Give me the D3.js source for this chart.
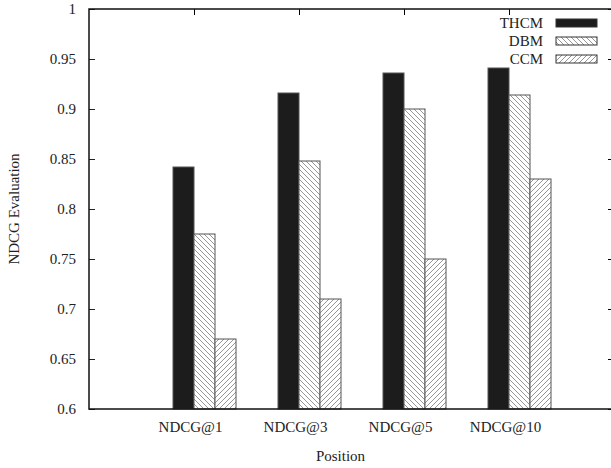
<!DOCTYPE html>
<html>
<head>
<meta charset="utf-8">
<script src="https://cdn.jsdelivr.net/npm/d3@7"></script>
<style>
  body { margin: 0; background: #fff; }
  text { font-family: "Liberation Serif", "DejaVu Serif", serif; fill: #222; }
</style>
</head>
<body>
<div id="chart"></div>
<script>
var categories = ["NDCG@1", "NDCG@3", "NDCG@5", "NDCG@10"];
var seriesNames = ["THCM", "DBM", "CCM"];
var thcm = [0.842, 0.916, 0.936, 0.941];
var dbm = [0.775, 0.848, 0.900, 0.914];
var ccm = [0.670, 0.710, 0.750, 0.830];
var yTicks = [0.6, 0.65, 0.7, 0.75, 0.8, 0.85, 0.9, 0.95, 1];

var series = [thcm, dbm, ccm];
var fills = ["#1c1c1c", "url(#hatchBack)", "url(#hatchFwd)"];

var width = 611, height = 468;
var margin = { top: 9, right: -3, bottom: 59, left: 89 };
var innerW = width - margin.left - margin.right,
    innerH = height - margin.top - margin.bottom;

var svg = d3.select("#chart").append("svg")
  .attr("width", width)
  .attr("height", height);

var defs = svg.append("defs");
// hatch patterns like gnuplot fill patterns
function hatch(id, dir) {
  var p = defs.append("pattern")
    .attr("id", id)
    .attr("patternUnits", "userSpaceOnUse")
    .attr("width", 5)
    .attr("height", 5);
  p.append("rect").attr("width", 5).attr("height", 5).attr("fill", "#fff");
  var d = dir > 0 ? "M-1,1 L1,-1 M0,5 L5,0 M4,6 L6,4" : "M-1,4 L1,6 M0,0 L5,5 M4,-1 L6,1";
  p.append("path").attr("d", d).attr("stroke", "#8a8a8a").attr("stroke-width", 0.9);
}
hatch("hatchBack", -1);
hatch("hatchFwd", 1);

var g = svg.append("g")
  .attr("transform", "translate(" + margin.left + "," + margin.top + ")");

// gnuplot-style numeric x range, categories at 0..3
var x = d3.scaleLinear().domain([-1, 4]).range([0, innerW]);
var y = d3.scaleLinear().domain([0.6, 1]).range([innerH, 0]);
var boxW = 0.2;

// bars
series.forEach(function (vals, s) {
  g.selectAll(".bar" + s)
    .data(vals)
    .enter().append("rect")
    .attr("class", "bar" + s)
    .attr("x", function (d, i) { return x(i - boxW + s * boxW); })
    .attr("width", x(boxW) - x(0))
    .attr("y", function (d) { return y(d); })
    .attr("height", function (d) { return innerH - y(d); })
    .attr("fill", fills[s])
    .attr("stroke", "#555")
    .attr("stroke-width", 1);
});

// y axis ticks (inward, mirrored)
var yAxis = d3.axisLeft(y).tickValues(yTicks).tickSize(-6).tickPadding(13)
  .tickFormat(function (d) { return d3.format("")(+d.toFixed(2)); });
var ya = g.append("g").call(yAxis);
ya.select(".domain").remove();
ya.selectAll("text").style("font-size", "15px").attr("fill", "#222");
ya.selectAll("line").attr("stroke", "#222");

var yr = g.append("g").attr("transform", "translate(" + innerW + ",0)")
  .call(d3.axisRight(y).tickValues(yTicks).tickSize(-6).tickFormat(""));
yr.select(".domain").remove();

// x axis labels
var xAxis = d3.axisBottom(x).tickValues(d3.range(categories.length))
  .tickSize(0).tickPadding(12)
  .tickFormat(function (d) { return categories[d]; });
var xa = g.append("g").attr("transform", "translate(0," + innerH + ")").call(xAxis);
xa.select(".domain").remove();
xa.selectAll("text").style("font-size", "15px").attr("fill", "#222").attr("dx", "-4");

var xt = g.append("g")
  .call(d3.axisTop(x).tickValues(d3.range(categories.length)).tickSize(-6).tickFormat(""));
xt.select(".domain").remove();

// border
g.append("rect")
  .attr("width", innerW)
  .attr("height", innerH)
  .attr("fill", "none")
  .attr("stroke", "#111")
  .attr("stroke-width", 1.5);

// axis titles
svg.append("text")
  .attr("x", margin.left + x(1.5) - 11)
  .attr("y", 461)
  .attr("text-anchor", "middle")
  .style("font-size", "15px")
  .text("Position");

svg.append("text")
  .attr("transform", "translate(19," + (margin.top + innerH / 2) + ") rotate(-90)")
  .attr("text-anchor", "middle")
  .style("font-size", "15px")
  .text("NDCG Evaluation");

// legend
var legend = g.append("g").attr("transform", "translate(" + (543 - margin.left) + ",0)");
seriesNames.forEach(function (name, s) {
  var ly = 14 + s * 18;
  legend.append("text")
    .attr("x", 0)
    .attr("y", ly + 5)
    .attr("text-anchor", "end")
    .style("font-size", "15px")
    .text(name);
  legend.append("rect")
    .attr("x", 13)
    .attr("y", ly - 4)
    .attr("width", 41)
    .attr("height", 8)
    .attr("fill", fills[s])
    .attr("stroke", "#333")
    .attr("stroke-width", 1);
});
</script>
</body>
</html>
